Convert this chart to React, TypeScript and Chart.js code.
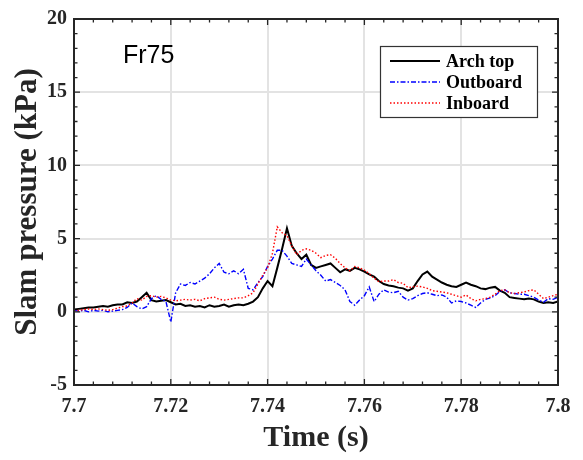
import React, { useEffect, useRef } from "react";
import { Chart, registerables } from "chart.js";

Chart.register(...registerables);

// Sampling of the time axis (s)
const T_START = 7.7;
const T_STEP = 0.001;

// Slam pressure (kPa), one value per 1 ms from 7.700 s to 7.800 s
const archTop = [
  0.15, 0.2, 0.25, 0.3, 0.3, 0.35, 0.4, 0.35, 0.45, 0.5,
  0.5, 0.65, 0.6, 0.7, 1.0, 1.3, 0.8, 0.7, 0.75, 0.8,
  0.65, 0.5, 0.55, 0.4, 0.45, 0.35, 0.4, 0.3, 0.45, 0.35,
  0.4, 0.5, 0.35, 0.45, 0.5, 0.45, 0.55, 0.7, 1.0, 1.6,
  2.1, 1.75, 3.0, 4.3, 5.7, 4.5, 4.0, 3.6, 3.9, 3.2,
  3.0, 3.1, 3.2, 3.3, 3.0, 2.7, 2.9, 2.8, 3.0, 2.9,
  2.75, 2.55, 2.4, 2.1, 1.9, 1.8, 1.75, 1.65, 1.6, 1.45,
  1.6, 2.1, 2.55, 2.75, 2.4, 2.2, 2.0, 1.85, 1.75, 1.7,
  1.85, 2.0, 1.85, 1.75, 1.6, 1.55, 1.65, 1.7, 1.45, 1.3,
  1.0, 0.95, 0.9, 0.85, 0.9, 0.85, 0.7, 0.6, 0.65, 0.6,
  0.7,
];

const outboard = [
  0.1, 0.05, 0.1, 0.0, 0.1, 0.05, 0.1, 0.0, 0.05, 0.1,
  0.15, 0.3, 0.6, 0.35, 0.2, 0.35, 0.9, 1.1, 0.85, 0.7,
  -0.7, 1.3, 1.9, 1.8, 2.0, 1.9, 2.1, 2.3, 2.6, 3.0,
  3.3, 2.7, 2.6, 2.8, 2.6, 2.9, 1.6, 1.5, 2.0, 2.4,
  3.1, 3.6, 4.2, 4.2, 3.8, 3.3, 3.2, 3.1, 3.6, 3.2,
  2.8, 2.5, 2.1, 2.2, 2.0, 1.8, 1.5, 0.7, 0.45, 0.8,
  1.1, 1.7, 0.7, 1.2, 1.5, 1.35, 1.3, 1.4, 1.0, 0.8,
  0.9, 1.1, 1.25, 1.3, 1.2, 1.1, 1.15, 1.0, 0.6, 0.75,
  0.7, 0.6, 0.45, 0.3, 0.6, 0.85, 0.95, 1.1, 1.4, 1.5,
  1.3, 1.25, 1.2, 1.2, 1.1, 1.0, 0.8, 0.65, 0.9, 0.85,
  1.0,
];

const inboard = [
  0.05, 0.1, 0.15, 0.2, 0.15, 0.2, 0.15, 0.1, 0.15, 0.25,
  0.35, 0.4, 0.6, 0.9, 0.8, 1.05, 1.1, 1.0, 1.05, 0.95,
  0.8, 0.75, 0.8, 0.85, 0.8, 0.85, 0.75, 0.9, 0.95, 1.0,
  0.85, 0.8, 0.85, 0.9, 0.95, 0.95, 1.1, 1.3, 1.9, 2.5,
  3.0, 4.0, 5.8, 5.4, 5.2, 4.5, 3.9, 4.2, 4.3, 4.2,
  4.0, 3.7, 3.85, 3.9, 3.65, 3.3, 3.0, 2.8, 3.1, 3.0,
  2.85, 2.6, 2.3, 2.05, 2.1, 2.1, 2.2, 2.0, 1.95, 1.65,
  1.7, 1.75, 1.7, 1.6, 1.45, 1.4, 1.35, 1.3, 1.2, 1.1,
  1.0, 1.15, 0.9, 0.75, 0.85, 0.9, 1.0, 1.2, 1.45, 1.5,
  1.3, 1.25, 1.3, 1.35, 1.45, 1.5, 1.2, 0.9, 1.0, 1.1,
  1.2,
];

const seriesNames = ["Arch top", "Outboard", "Inboard"];
const seriesColors = ["#000000", "#0000ff", "#ff0000"];
const xTickValues = [7.7, 7.72, 7.74, 7.76, 7.78, 7.8];
const yTickValues = [-5, 0, 5, 10, 15, 20];
const caseLabel = "Fr75";

const SERIF = "'Liberation Serif', 'Times New Roman', serif";
const SANS = "'Liberation Sans', Arial, sans-serif";
const AXIS_COLOR = "#262626";

const toPoints = (vals: number[]) =>
  vals.map((v, i) => ({ x: T_START + i * T_STEP, y: v }));

const dashes: number[][] = [[], [5, 2, 1.5, 2], [1.5, 2]];
const widths = [2, 1.4, 1.4];

const framePlugin = {
  id: "frame",
  afterDatasetsDraw(chart: any) {
    const { ctx, chartArea: a, scales } = chart;
    const xs = scales.x;
    const ys = scales.y;
    ctx.save();
    // box
    ctx.strokeStyle = AXIS_COLOR;
    ctx.lineWidth = 2;
    ctx.setLineDash([]);
    ctx.strokeRect(a.left, a.top, a.right - a.left, a.bottom - a.top);
    // x ticks (inward, bottom & top)
    ctx.lineWidth = 1.3;
    for (let k = 0; k <= 25; k++) {
      const v = 7.7 + k * 0.004;
      const px = xs.getPixelForValue(v);
      const len = k % 5 === 0 ? 6 : 3.5;
      ctx.beginPath();
      ctx.moveTo(px, a.bottom);
      ctx.lineTo(px, a.bottom - len);
      ctx.moveTo(px, a.top);
      ctx.lineTo(px, a.top + len);
      ctx.stroke();
    }
    for (let v = -5; v <= 20; v++) {
      const py = ys.getPixelForValue(v);
      const len = v % 5 === 0 ? 6 : 3.5;
      ctx.beginPath();
      ctx.moveTo(a.left, py);
      ctx.lineTo(a.left + len, py);
      ctx.moveTo(a.right, py);
      ctx.lineTo(a.right - len, py);
      ctx.stroke();
    }
    // case label
    ctx.fillStyle = "#000";
    ctx.font = `25px ${SANS}`;
    ctx.textAlign = "left";
    ctx.textBaseline = "alphabetic";
    ctx.fillText(caseLabel, 123, 63);
    // legend
    const lx = 380.5, ly = 46.5, lw = 157, lh = 71;
    ctx.fillStyle = "#fff";
    ctx.fillRect(lx, ly, lw, lh);
    ctx.strokeStyle = "#333";
    ctx.lineWidth = 1.2;
    ctx.strokeRect(lx, ly, lw, lh);
    const rows = [61, 82, 103];
    ctx.font = `bold 18px ${SERIF}`;
    ctx.textBaseline = "middle";
    seriesNames.forEach((name, i) => {
      ctx.strokeStyle = seriesColors[i];
      ctx.lineWidth = widths[i];
      ctx.setLineDash(dashes[i]);
      ctx.beginPath();
      ctx.moveTo(390, rows[i]);
      ctx.lineTo(440, rows[i]);
      ctx.stroke();
      ctx.setLineDash([]);
      ctx.fillStyle = "#000";
      ctx.fillText(name, 446, rows[i] + 1);
    });
    ctx.restore();
  },
};

export default function App() {
  const ref = useRef<HTMLCanvasElement | null>(null);
  useEffect(() => {
    if (!ref.current) return;
    const all = [archTop, outboard, inboard];
    const chart = new Chart(ref.current, {
      type: "line",
      data: {
        datasets: all.map((vals, i) => ({
          label: seriesNames[i],
          data: toPoints(vals),
          borderColor: seriesColors[i],
          backgroundColor: seriesColors[i],
          borderWidth: widths[i],
          borderDash: dashes[i],
          pointRadius: 0,
          tension: 0,
          fill: false,
          order: 2 - i,
        })),
      },
      options: {
        animation: false,
        responsive: true,
        maintainAspectRatio: false,
        layout: { padding: { top: 15, right: 25, left: 0, bottom: 0 } },
        plugins: {
          legend: { display: false },
          tooltip: { enabled: false },
        },
        scales: {
          x: {
            type: "linear",
            min: 7.7,
            max: 7.8,
            afterBuildTicks: (scale: any) => {
              scale.ticks = xTickValues.map((v) => ({ value: v }));
            },
            afterFit: (scale: any) => {
              scale.height = 75;
            },
            ticks: {
              color: AXIS_COLOR,
              font: { family: SERIF, size: 20, weight: "bold" },
              padding: 10,
              maxRotation: 0,
              autoSkip: false,
              callback: (v: any) => String(Number(Number(v).toFixed(2))),
            },
            grid: { color: "#e3e3e3", lineWidth: 2, drawTicks: false },
            border: { display: false },
            title: {
              display: true,
              text: "Time (s)",
              color: AXIS_COLOR,
              font: { family: SERIF, size: 30, weight: "bold" },
              padding: { top: 0, bottom: 4 },
            },
          },
          y: {
            type: "linear",
            min: -5,
            max: 20,
            afterBuildTicks: (scale: any) => {
              scale.ticks = yTickValues.map((v) => ({ value: v }));
            },
            afterFit: (scale: any) => {
              scale.width = 74;
            },
            ticks: {
              color: AXIS_COLOR,
              font: { family: SERIF, size: 20, weight: "bold" },
              padding: 7,
              autoSkip: false,
            },
            grid: { color: "#e3e3e3", lineWidth: 2, drawTicks: false },
            border: { display: false },
            title: {
              display: true,
              text: "Slam pressure (kPa)",
              color: AXIS_COLOR,
              font: { family: SERIF, size: 31, weight: "bold" },
              padding: { top: 9, bottom: 0 },
            },
          },
        },
      },
      plugins: [framePlugin],
    });
    return () => chart.destroy();
  }, []);
  return (
    <div style={{ position: "fixed", left: 0, top: 0, width: 583, height: 460, background: "#fff" }}>
      <canvas ref={ref} />
    </div>
  );
}
